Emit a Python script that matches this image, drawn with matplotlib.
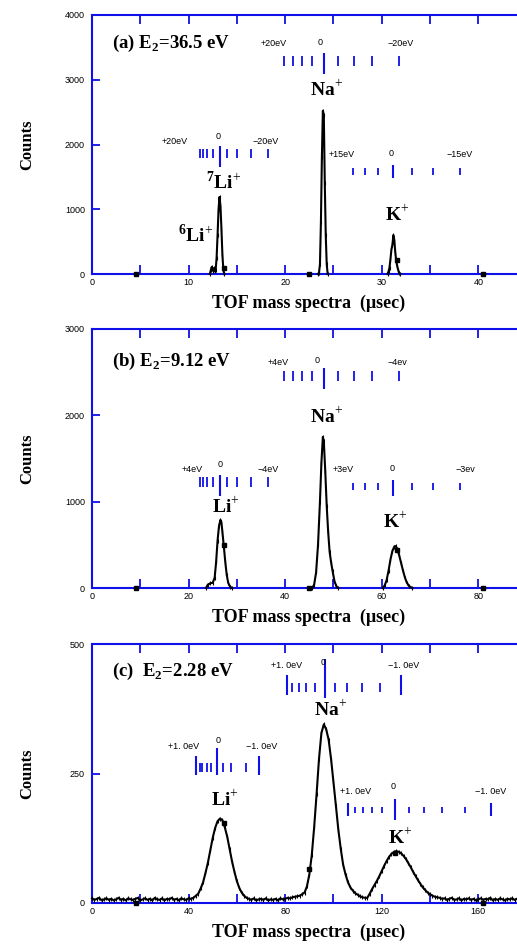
import matplotlib
matplotlib.use("Agg")
import matplotlib.pyplot as plt
from matplotlib.ticker import MultipleLocator, FixedLocator

plt.rcParams['mathtext.fontset'] = 'custom'
plt.rcParams['mathtext.rm'] = 'Liberation Serif'
plt.rcParams['mathtext.bf'] = 'Liberation Serif:bold'

BLUE = '#1010e8'
SERIF = 'Liberation Serif'
SANS = 'Liberation Sans'

# ---------------- data ----------------
# panel (a)  E2 = 36.5 eV
a_li_t = [12.2, 12.3, 12.4, 12.5, 12.6, 12.7, 12.8, 12.9, 13.0, 13.1, 13.2, 13.3, 13.4, 13.5, 13.6, 13.7]
a_li_c = [0, 60, 110, 50, 90, 40, 60, 250, 600, 1000, 1190, 1050, 700, 300, 60, 0]
a_na_t = [23.4, 23.5, 23.6, 23.7, 23.8, 23.9, 24.0, 24.1, 24.2, 24.3, 24.4]
a_na_c = [0, 20, 150, 800, 1800, 2520, 2450, 1400, 600, 150, 0]
a_k_t = [30.6, 30.7, 30.8, 30.9, 31.0, 31.1, 31.2, 31.3, 31.4, 31.5, 31.6, 31.7, 31.8, 31.9]
a_k_c = [0, 40, 100, 230, 380, 450, 600, 520, 330, 200, 120, 60, 20, 0]
a_sq_t = [4.6, 13.7, 22.5, 31.6, 40.5]
a_sq_c = [0, 88, 0, 216, 0]

# panel (b)  E2 = 9.12 eV
b_li_t = [23.6, 24.0, 24.5, 25.0, 25.4, 25.7, 26.0, 26.3, 26.6, 26.8, 27.0, 27.3, 27.6, 27.9, 28.2, 28.6, 29.0]
b_li_c = [0, 40, 55, 60, 120, 300, 550, 720, 790, 760, 650, 480, 300, 150, 60, 15, 0]
b_na_t = [45.6, 46.0, 46.4, 46.8, 47.2, 47.5, 47.8, 48.0, 48.3, 48.6, 48.9, 49.2, 49.5, 49.8, 50.2, 50.6, 51.0]
b_na_c = [0, 40, 180, 500, 1000, 1450, 1750, 1700, 1350, 950, 650, 420, 300, 200, 80, 20, 0]
b_k_t = [60.2, 60.6, 61.0, 61.4, 61.8, 62.2, 62.6, 62.9, 63.2, 63.6, 64.0, 64.4, 64.8, 65.2, 65.7, 66.3]
b_k_c = [0, 30, 90, 200, 330, 430, 480, 486, 450, 380, 290, 200, 120, 60, 20, 0]
b_sq_t = [9.1, 27.4, 45.0, 63.1, 81.0]
b_sq_c = [0, 498, 0, 440, 0]

# panel (c)  E2 = 2.28 eV, full spectrum every 1 usec (0..176)
c_t = list(range(0, 177))
c_c = [9, 6, 8, 10, 5, 7, 9, 6, 8, 5, 7, 10, 6, 8, 5, 9, 7, 6, 8, 10,
       5, 7, 9, 6, 8, 5, 10, 7, 6, 9, 5, 8, 7, 10, 6, 8, 5, 9, 7, 6,
       9, 8,
       10, 14, 18, 28, 40, 58, 78, 102, 126, 145, 158, 163, 160, 146, 128, 104, 80, 60,
       42, 29, 20, 14, 10, 8,
       6, 9, 5, 7, 8, 6, 9, 5, 7, 6, 8, 5, 9, 7, 8, 10, 9, 11,
       12, 13, 14, 17, 20, 32, 55, 92, 146, 210, 278, 328, 345, 335, 315, 278, 234, 188,
       142, 105, 74, 55, 40, 30, 24, 19, 16, 13, 11, 10, 10,
       18, 27, 35, 43, 52, 62, 72, 81, 89, 95, 98, 100, 99, 96, 91, 85, 77, 69, 60, 52,
       44, 37, 30, 25, 20, 17, 14, 12, 11, 10, 8,
       9, 6, 8, 10, 6, 7, 9, 5, 8, 7, 9, 6, 8, 5, 7, 9, 6, 8, 7, 10,
       5, 8, 6, 9, 7, 5, 8, 7, 9, 6, 8]
c_sq_t = [18.2, 54.7, 90.0, 125.6, 162.0]
c_sq_c = [0, 154, 66, 96, 0]

# energy scales: tick TOF values, index of the zero tick, labels (text, TOF)
a_scales = [
    dict(t=[19.9, 20.8, 21.7, 22.8, 24.0, 25.5, 27.1, 29.0, 31.8], zero=4,
         short=(3219, 3373), long=(3089, 3418), lab_y=3560,
         labels=[('+20eV', 18.8), ('0', 23.6), ('\u221220eV', 31.9)], zlab_y=3580),
    dict(t=[11.2, 11.5, 11.9, 12.5, 13.3, 14.0, 15.0, 16.5, 18.2], zero=4,
         short=(1787, 1930), long=(1648, 1982), lab_y=2044,
         labels=[('+20eV', 8.6), ('0', 13.06), ('\u221220eV', 18.0)], zlab_y=2131),
    dict(t=[27.0, 28.3, 29.6, 31.2, 33.1, 35.3, 38.1], zero=3,
         short=(1529, 1632), long=(1488, 1683), lab_y=1838,
         labels=[('+15eV', 25.9), ('0', 31.0), ('\u221215eV', 38.1)], zlab_y=1864),
]
b_scales = [
    dict(t=[39.8, 41.6, 43.4, 45.6, 48.0, 51.0, 54.2, 58.0, 63.6], zero=4,
         short=(2401, 2517), long=(2301, 2552), lab_y=2614,
         labels=[('+4eV', 38.5), ('0', 46.6), ('\u22124ev', 63.2)], zlab_y=2630),
    dict(t=[22.4, 23.0, 23.8, 25.0, 26.5, 28.0, 30.0, 33.0, 36.4], zero=4,
         short=(1173, 1290), long=(1066, 1309), lab_y=1367,
         labels=[('+4eV', 20.7), ('0', 26.5), ('\u22124eV', 36.5)], zlab_y=1433),
    dict(t=[54.0, 56.6, 59.2, 62.4, 66.2, 70.6, 76.2], zero=3,
         short=(1135, 1220), long=(1066, 1251), lab_y=1367,
         labels=[('+3eV', 52.0), ('0', 62.1), ('\u22123ev', 77.3)], zlab_y=1380),
]
c_scales = [
    dict(t=[80.7, 83.0, 85.8, 88.6, 92.4, 96.3, 100.7, 105.6, 111.8, 119.1, 128.0], zero=5,
         short=(408, 424), long=(395, 472), ends=(401, 441), lab_y=459,
         labels=[('+1. 0eV', 80.7), ('0', 95.9), ('\u22121. 0eV', 129.0)], zlab_y=465),
    dict(t=[43.0, 44.8, 45.7, 47.5, 49.2, 51.7, 54.4, 57.6, 63.8, 69.2], zero=5,
         short=(252, 271), long=(247, 300), ends=(247, 284), lab_y=303,
         labels=[('+1. 0eV', 37.9), ('0', 52.4), ('\u22121. 0eV', 70.3)], zlab_y=313),
    dict(t=[106.2, 109.0, 112.4, 115.9, 120.3, 125.3, 131.1, 137.3, 144.9, 154.6, 165.3], zero=5,
         short=(173, 186), long=(160, 200), ends=(168, 194), lab_y=215,
         labels=[('+1. 0eV', 109.0), ('0', 124.9), ('\u22121. 0eV', 165.0)], zlab_y=225),
]

panels = [
    dict(bottom=1 - 274 / 944, xmax=44.0, ymax=4000, yt=[0, 1000, 2000, 3000, 4000],
         xmaj=10, xmin=5,
         curves=[(a_li_t, a_li_c), (a_na_t, a_na_c), (a_k_t, a_k_c)],
         sq=(a_sq_t, a_sq_c), scales=a_scales,
         title=r'(a) E$_\mathbf{2}$=36.5 eV', title_y=0.89,
         ions=[(r'Na$^{+}$', 24.3, 2841), (r'$^\mathbf{7}$Li$^{+}$', 13.6, 1425),
               (r'$^\mathbf{6}$Li$^{+}$', 10.7, 602), (r'K$^{+}$', 31.6, 911)]),
    dict(bottom=1 - 588 / 944, xmax=88.0, ymax=3000, yt=[0, 1000, 2000, 3000],
         xmaj=20, xmin=10,
         curves=[(b_li_t, b_li_c), (b_na_t, b_na_c), (b_k_t, b_k_c)],
         sq=(b_sq_t, b_sq_c), scales=b_scales,
         title=r'(b) E$_\mathbf{2}$=9.12 eV', title_y=0.874,
         ions=[(r'Na$^{+}$', 48.6, 1985), (r'Li$^{+}$', 27.6, 942), (r'K$^{+}$', 62.8, 768)]),
    dict(bottom=1 - 903 / 944, xmax=176.0, ymax=500, yt=[0, 250, 500],
         xmaj=40, xmin=20,
         curves=[(c_t, c_c)],
         sq=(c_sq_t, c_sq_c), scales=c_scales,
         title=r'(c)  E$_\mathbf{2}$=2.28 eV', title_y=0.893,
         ions=[(r'Na$^{+}$', 98.6, 373), (r'Li$^{+}$', 55.1, 199), (r'K$^{+}$', 127.7, 125)]),
]

fig = plt.figure(figsize=(5.17, 9.44), dpi=100)

for p in panels:
    ax = fig.add_axes([92 / 517, p['bottom'], 425 / 517, 259 / 944])
    ax.set_xlim(0, p['xmax'])
    ax.set_ylim(0, p['ymax'])

    for t, c in p['curves']:
        ax.plot(t, c, color='black', lw=1.5, marker='|', ms=2.5, mew=0.8, zorder=3, clip_on=False)
    ax.plot(p['sq'][0], p['sq'][1], ls='none', marker='s', ms=3.2, color='black', zorder=4, clip_on=False)

    for s in p['scales']:
        for i, t in enumerate(s['t']):
            if i == s['zero']:
                y0, y1 = s['long']
                lw = 1.5
            elif 'ends' in s and (i == 0 or i == len(s['t']) - 1):
                y0, y1 = s['ends']
                lw = 1.5
            else:
                y0, y1 = s['short']
                lw = 1.3
            ax.vlines(t, y0, y1, color=BLUE, lw=lw)
        for txt, x in s['labels']:
            y = s['zlab_y'] if txt == '0' else s['lab_y']
            ax.text(x, y, txt, fontsize=6.5, family=SANS, ha='center', va='center')

    for txt, x, y in p['ions']:
        ax.text(x, y, txt, fontsize=14, family=SERIF, fontweight='bold', ha='center', va='center')

    ax.text(0.047, p['title_y'], p['title'], transform=ax.transAxes, fontsize=13.5,
            family=SERIF, fontweight='bold', ha='left', va='center')

    ax.text(0.51, -0.112, 'TOF mass spectra  (\u03bcsec)', transform=ax.transAxes,
            fontsize=13, family=SERIF, fontweight='bold', ha='center', va='center')

    fig.text(27 / 517, p['bottom'] + 0.5 * 259 / 944, 'Counts', rotation=90, fontsize=12,
             family=SERIF, fontweight='bold', ha='center', va='center')

    ax.spines['right'].set_visible(False)
    for side in ['left', 'top', 'bottom']:
        ax.spines[side].set_color(BLUE)
        ax.spines[side].set_linewidth(1.5)

    ax.xaxis.set_major_locator(MultipleLocator(p['xmaj']))
    ax.xaxis.set_minor_locator(MultipleLocator(p['xmin']))
    ax.yaxis.set_major_locator(FixedLocator(p['yt']))
    ax.tick_params(axis='x', which='both', direction='in', top=True, bottom=True,
                   length=6.5, width=1.3, color=BLUE, labelsize=6.5, pad=3)
    ax.tick_params(axis='y', which='both', direction='in', left=True, right=False,
                   length=6, width=1.3, color=BLUE, labelsize=6.5, pad=5)
    for lab in ax.get_xticklabels() + ax.get_yticklabels():
        lab.set_family(SANS)

fig.savefig('out.png', dpi=100)
